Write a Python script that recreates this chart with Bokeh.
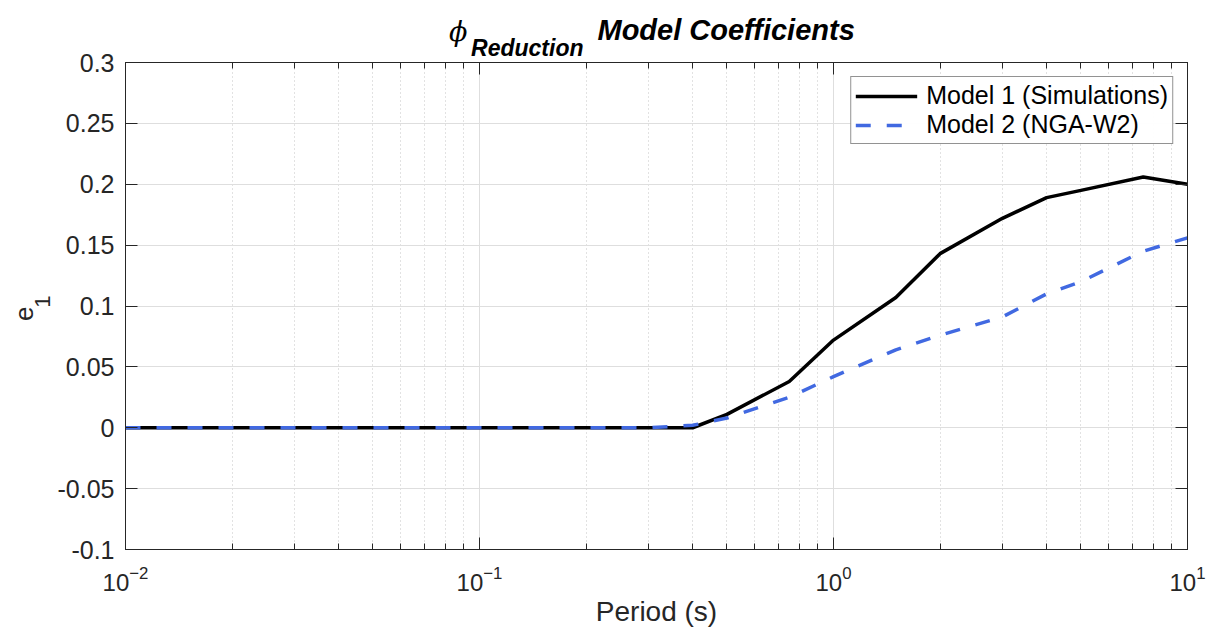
from bokeh.plotting import figure
from bokeh.models import (Label, LogAxis, LinearAxis, FixedTicker, CustomJSTickFormatter,
                          Legend, LegendItem, Range1d, LogScale, Grid, LogTickFormatter)
from bokeh.layouts import column
from bokeh.embed import file_html
from bokeh.resources import INLINE
import math

# ---- data ----
period = [0.01, 0.02, 0.03, 0.05, 0.075, 0.1, 0.15, 0.2, 0.25, 0.3, 0.4,
          0.5, 0.75, 1.0, 1.5, 2.0, 3.0, 4.0, 5.0, 7.5, 10.0]
model1_sim = [0.0, 0.0, 0.0, 0.0, 0.0, 0.0, 0.0, 0.0, 0.0, 0.0, 0.0,
              0.011, 0.038, 0.072, 0.107, 0.143, 0.172, 0.189, 0.195, 0.206, 0.200]
model2_nga = [0.0, 0.0, 0.0, 0.0, 0.0, 0.0, 0.0, 0.0, 0.0, 0.0, 0.002,
              0.008, 0.025, 0.042, 0.064, 0.076, 0.091, 0.110, 0.120, 0.145, 0.156]
series_labels = ["Model 1 (Simulations)", "Model 2 (NGA-W2)"]

x_ticks = [0.01, 0.1, 1, 10]
x_minor = [m * 10.0 ** e for e in (-2, -1, 0) for m in range(2, 10)]
y_ticks = [-0.1, -0.05, 0.0, 0.05, 0.1, 0.15, 0.2, 0.25, 0.3]

title_main = "Model Coefficients"
title_sym = "\u03d5"
title_sub = "Reduction"
x_label = "Period (s)"
y_label_main = "e"
y_label_sub = "1"

FONT = "Liberation Sans"
AX = "#262626"

xr = Range1d(0.01, 10)

# ---- title strip ----
tf = figure(width=1208, height=62, x_axis_type=None, y_axis_type=None,
            x_range=xr, y_range=Range1d(0, 1), output_backend="svg", toolbar_location=None,
            min_border_left=125, min_border_right=21, min_border_top=0, min_border_bottom=0)
tf.x_scale = LogScale()
tf.outline_line_color = None
tf.border_fill_color = None
tf.background_fill_color = None
tf.add_layout(Label(x=0.01, y=0, x_offset=472, y_offset=33, text=title_main, text_align="left",
                    text_baseline="alphabetic", text_font=FONT, text_font_size="29px",
                    text_font_style="bold italic", text_color="black"))
tf.add_layout(Label(x=0.01, y=0, x_offset=458, y_offset=15, text=title_sub, text_align="right",
                    text_baseline="alphabetic", text_font=FONT, text_font_size="23px",
                    text_font_style="bold italic", text_color="black"))
tf.add_layout(Label(x=0.01, y=0, x_offset=342, y_offset=31, text=title_sym, text_align="right",
                    text_baseline="alphabetic", text_font="DejaVu Serif", text_font_size="27px",
                    text_font_style="italic", text_color="black"))

# ---- main plot ----
p = figure(width=1208, height=584, x_axis_type=None, y_axis_type=None,
           x_range=xr, y_range=Range1d(-0.1, 0.3),
           output_backend="svg", toolbar_location=None, margin=(-13, 0, 0, 0),
           min_border_left=125, min_border_right=21, min_border_top=13, min_border_bottom=84)
p.x_scale = LogScale()
p.border_fill_color = None
p.outline_line_color = AX
p.outline_line_width = 1

xt = FixedTicker(ticks=x_ticks, minor_ticks=x_minor)
yt = FixedTicker(ticks=y_ticks)
empty = CustomJSTickFormatter(code="return ''")


def style_axis(ax):
    ax.major_tick_in = 12
    ax.major_tick_out = 0
    ax.minor_tick_in = 6
    ax.minor_tick_out = 0
    ax.axis_line_color = AX
    ax.major_tick_line_color = AX
    ax.minor_tick_line_color = AX


bx = LogAxis(ticker=xt, formatter=LogTickFormatter(),
             major_label_text_font=FONT, major_label_text_font_size="24px",
             major_label_text_color=AX, major_label_standoff=16,
             axis_label=x_label, axis_label_text_font=FONT, axis_label_text_font_size="28px",
             axis_label_text_font_style="normal", axis_label_text_color=AX,
             axis_label_standoff=2)
tx = LogAxis(ticker=xt, formatter=empty, major_label_text_font_size="0px", major_label_standoff=0)
ly = LinearAxis(ticker=yt, formatter=CustomJSTickFormatter(code="return String(Math.round(tick*100)/100)"),
                major_label_text_font=FONT, major_label_text_font_size="25px",
                major_label_text_color=AX, major_label_standoff=11)
ry = LinearAxis(ticker=yt, formatter=empty, major_label_text_font_size="0px", major_label_standoff=0)
for a in (bx, tx, ly, ry):
    style_axis(a)
ly.minor_tick_in = 0
ry.minor_tick_in = 0
p.add_layout(bx, "below")
p.add_layout(tx, "above")
p.add_layout(ly, "left")
p.add_layout(ry, "right")

p.add_layout(Grid(dimension=0, ticker=xt, grid_line_color="#dedede",
                  minor_grid_line_color="#c4c4c4", minor_grid_line_dash="1 3"))
p.add_layout(Grid(dimension=1, ticker=yt, grid_line_color="#dedede"))

r1 = p.line(period, model1_sim, line_color="black", line_width=3.5)
r2 = p.line(period, model2_nga, line_color="#4169E1", line_width=3.5, line_dash="15 16")

legend = Legend(items=[LegendItem(label=series_labels[0], renderers=[r1]),
                       LegendItem(label=series_labels[1], renderers=[r2])],
                location="top_right", margin=14, padding=4, spacing=0,
                border_line_color=AX, border_line_width=1,
                label_text_font=FONT, label_text_font_size="25px", label_text_color="black",
                glyph_width=62, glyph_height=20, label_standoff=9)
p.add_layout(legend)

# y axis label e_1 (in the left panel)
p.add_layout(Label(x=0.01, y=0.0936, x_offset=-102, text=y_label_main, angle=math.pi / 2,
                   text_align="center", text_baseline="alphabetic", text_font=FONT,
                   text_font_size="26px", text_color=AX), "left")
p.add_layout(Label(x=0.01, y=0.1035, x_offset=-83, text=y_label_sub, angle=math.pi / 2,
                   text_align="center", text_baseline="alphabetic", text_font=FONT,
                   text_font_size="22px", text_color=AX), "left")

layout = column(tf, p, spacing=0)
open("out.html", "w").write(file_html(layout, INLINE))
